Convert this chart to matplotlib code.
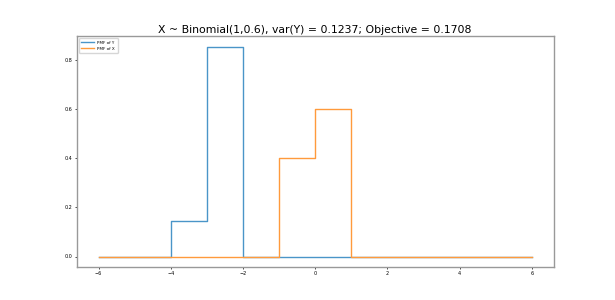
import numpy as np
import matplotlib.pyplot as plt

# support grid and the two PMFs (step, where='post')
support = np.arange(-6, 7)
pmf_y = [0, 0, 0.1446, 0.8554, 0, 0, 0, 0, 0, 0, 0, 0, 0]
pmf_x = [0, 0, 0, 0, 0, 0.4, 0.6, 0, 0, 0, 0, 0, 0]
title = "X ~ Binomial(1,0.6), var(Y) = 0.1237; Objective = 0.1708"

fig, ax = plt.subplots(figsize=(6.15, 3.0), dpi=100)
ax.step(support, pmf_y, where="post", color="#4a95c8", lw=1.0, label="PMF of Y")
ax.step(support, pmf_x, where="post", color="#ff9a3c", lw=1.0, label="PMF of X")
ax.set_xticks(np.arange(-6, 7, 2))
ax.set_yticks(np.arange(0, 0.9, 0.2))
ax.tick_params(labelsize=3.5, length=1.5, width=0.5, pad=1.5)
for s in ax.spines.values():
    s.set_color("#999999"); s.set_linewidth(1.0)
ax.legend(loc="upper left", fontsize=3, handlelength=3, borderpad=0.6)
ax.set_title(title, fontsize=7.8, pad=2.5)
fig.savefig("out.png", dpi=100)
